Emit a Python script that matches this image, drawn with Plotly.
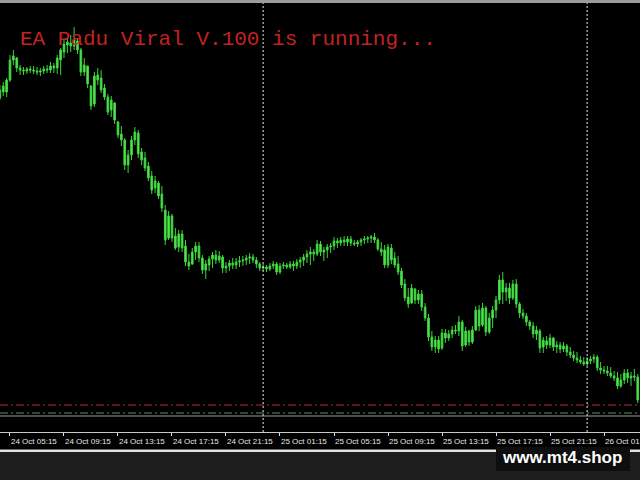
import plotly.graph_objects as go
import pandas as pd

# ---------------- data (15-minute candles) ----------------
start_time = "2024-10-24 04:30"

opens = [402,408,408,420,440,442,432,430,429,431,
         430,429,428,429,431,430,434,432,440,448,
         455,457,454,459,450,428,434,414,396,425,
         422,412,403,390,397,378,366,360,335,345,
         360,367,348,342,334,324,312,317,306,290,
         262,284,264,253,266,254,238,236,248,254,
         242,230,235,241,245,240,243,232,234,237,
         235,238,239,240,242,243,240,236,232,233,
         231,234,236,228,234,235,233,236,234,238,
         240,243,246,248,246,256,248,250,253,254,
         259,257,260,258,261,257,256,258,260,261,
         262,263,260,251,250,235,252,242,236,229,
         216,203,197,211,200,206,193,182,163,153,
         160,152,167,162,166,170,169,178,155,169,
         158,170,190,175,192,168,182,190,200,220,
         208,212,202,216,196,187,184,178,174,166,
         169,153,159,155,162,153,155,151,154,148,
         145,142,140,138,136,139,141,143,132,130,
         129,127,124,122,114,120,127,122,124,123]

highs = [415,418,422,445,450,443,435,433,433,434,
         434,433,432,434,435,438,437,445,452,460,
         462,465,473,462,452,442,434,415,428,432,
         430,416,406,404,398,379,374,362,350,364,
         373,370,352,348,338,329,324,319,314,295,
         289,286,272,270,270,260,246,252,258,258,
         245,240,244,248,250,249,245,238,240,242,
         242,244,244,245,247,246,243,238,236,235,
         237,239,238,237,238,237,239,239,241,243,
         246,250,253,251,260,259,253,256,257,263,
         262,263,264,264,264,260,260,262,264,264,
         265,267,262,258,255,256,256,248,244,232,
         221,212,216,212,210,210,197,186,169,164,
         164,171,171,170,174,175,184,180,173,170,
         174,194,195,197,194,187,194,204,225,228,
         217,217,220,221,198,191,187,180,178,174,
         171,163,164,166,163,159,158,158,156,153,
         149,148,144,143,143,144,146,145,138,134,
         134,133,129,128,126,131,131,128,131,126]

lows = [400,404,403,418,435,428,425,425,426,427,
        426,425,424,426,427,427,427,426,425,442,
        447,448,450,446,424,424,412,390,393,415,
        407,400,385,383,376,362,354,330,327,340,
        355,342,335,329,319,306,307,301,288,255,
        260,258,250,248,248,234,230,235,240,238,
        226,221,229,232,236,237,227,227,229,231,
        231,233,234,235,236,237,232,229,229,228,
        229,231,225,226,231,231,231,229,231,232,
        234,237,235,239,244,244,239,242,247,250,
        252,254,254,254,254,254,253,254,256,257,
        257,257,249,244,232,232,236,232,225,212,
        199,192,196,196,196,189,179,159,149,147,
        147,150,157,159,162,166,164,149,153,154,
        156,169,169,173,164,166,172,182,196,196,
        199,196,200,192,182,181,174,170,162,160,
        147,147,151,152,149,147,147,148,144,142,
        139,137,136,134,134,136,137,129,126,126,
        124,122,119,111,112,116,117,114,119,97]

closes = [410,414,420,440,444,432,430,429,431,430,
          429,428,429,431,430,434,432,442,450,456,
          458,454,460,450,428,435,416,394,424,420,
          410,403,388,400,380,365,360,335,345,360,
          368,346,340,332,322,310,319,304,292,260,
          284,262,252,266,252,238,234,248,254,242,
          230,236,241,245,240,244,232,234,237,235,
          238,239,240,242,243,240,236,232,233,231,
          234,236,228,234,235,233,236,234,238,240,
          243,246,248,246,256,248,250,253,254,259,
          257,260,258,261,257,256,258,260,261,262,
          263,260,251,248,235,253,240,235,228,215,
          202,196,212,200,206,193,182,163,153,160,
          151,167,162,166,170,169,178,154,169,158,
          170,190,174,192,168,182,190,200,220,208,
          212,202,216,196,187,184,178,174,166,170,
          152,160,155,162,153,155,151,154,148,145,
          142,140,138,136,139,141,143,132,130,129,
          127,124,122,114,120,127,122,124,123,100]

tick_times = ["2024-10-24 05:15", "2024-10-24 09:15", "2024-10-24 13:15",
              "2024-10-24 17:15", "2024-10-24 21:15", "2024-10-25 01:15",
              "2024-10-25 05:15", "2024-10-25 09:15", "2024-10-25 13:15",
              "2024-10-25 17:15", "2024-10-25 21:15", "2024-10-26 01:15"]
tick_labels = ["24 Oct 05:15", "24 Oct 09:15", "24 Oct 13:15", "24 Oct 17:15",
               "24 Oct 21:15", "25 Oct 01:15", "25 Oct 05:15", "25 Oct 09:15",
               "25 Oct 13:15", "25 Oct 17:15", "25 Oct 21:15", "26 Oct 01:15"]
day_separators = ["2024-10-25 00:00", "2024-10-26 00:00"]
level_red = 95
level_green = 87
level_gray = 84
title_text = "EA Padu Viral V.100 is running..."
watermark = "www.mt4.shop"

times = pd.date_range(start_time, periods=len(opens), freq="15min")

# ---------------- figure ----------------
W, H = 640, 480
TOP, BOT = 3, 432


def py(y):
    return (BOT - y) / (BOT - TOP)


green_line = "#3cd43c"
green_fill = "#5ee85e"

fig = go.Figure()
fig.add_trace(go.Candlestick(
    x=times, open=opens, high=highs, low=lows, close=closes,
    increasing=dict(line=dict(color=green_line, width=1), fillcolor=green_fill),
    decreasing=dict(line=dict(color=green_line, width=1), fillcolor=green_fill),
    whiskerwidth=0, showlegend=False, hoverinfo="skip",
))

shapes = []
# top grey strip
shapes.append(dict(type="rect", xref="paper", yref="paper", x0=0, x1=1,
                   y0=py(TOP), y1=py(0), fillcolor="#9c9c9c", line=dict(width=0)))
# bottom dark area
shapes.append(dict(type="rect", xref="paper", yref="paper", x0=0, x1=1,
                   y0=py(480), y1=py(452), fillcolor="#1e1e1e", line=dict(width=0)))
shapes.append(dict(type="rect", xref="paper", yref="paper", x0=0, x1=1,
                   y0=py(452), y1=py(449.5), fillcolor="#e2e2e2", line=dict(width=0)))
# horizontal levels
shapes.append(dict(type="line", xref="paper", yref="y", x0=0, x1=1,
                   y0=level_red, y1=level_red,
                   line=dict(color="#a83030", width=1, dash="8px,3px,2px,3px")))
shapes.append(dict(type="line", xref="paper", yref="y", x0=0, x1=1,
                   y0=level_green, y1=level_green,
                   line=dict(color="#5f8f5f", width=1, dash="8px,3px,2px,3px")))
shapes.append(dict(type="line", xref="paper", yref="y", x0=0, x1=1,
                   y0=level_gray, y1=level_gray,
                   line=dict(color="#9a9a9a", width=1)))
# day separators
for d in day_separators:
    shapes.append(dict(type="line", xref="x", yref="paper", x0=d, x1=d,
                       y0=0, y1=1, line=dict(color="#e8e8e8", width=1, dash="2px,2px")))
# watermark box
shapes.append(dict(type="rect", xref="paper", yref="paper", x0=496 / W, x1=630 / W,
                   y0=py(471), y1=py(447), fillcolor="#0e0e0e", line=dict(width=0)))

annotations = []
annotations.append(dict(text=title_text, xref="paper", yref="paper",
                        x=18 / W, y=py(39), xanchor="left", yanchor="middle",
                        showarrow=False,
                        font=dict(family="Liberation Mono, Courier New, monospace",
                                  size=21, color="#c42222")))
for t, lab in zip(tick_times, tick_labels):
    annotations.append(dict(text=lab, xref="x", yref="paper", x=t, y=py(441),
                            xanchor="left", yanchor="middle", showarrow=False,
                            borderpad=0,
                            font=dict(family="Liberation Sans, Arial, sans-serif",
                                      size=8, color="#e6e6e6")))
annotations.append(dict(text="<b>" + watermark + "</b>", xref="paper", yref="paper",
                        x=562 / W, y=py(457.5), xanchor="center", yanchor="middle",
                        showarrow=False,
                        font=dict(family="Liberation Sans, Arial, sans-serif",
                                  size=17, color="#ffffff")))

fig.update_layout(
    width=W, height=H,
    margin=dict(l=0, r=0, t=TOP, b=H - BOT),
    paper_bgcolor="#000000", plot_bgcolor="#000000",
    shapes=shapes, annotations=annotations,
    showlegend=False,
    xaxis=dict(type="date", range=["2024-10-24 04:30:36", "2024-10-26 03:55:00"],
               rangeslider=dict(visible=False), showgrid=False, zeroline=False,
               showline=True, linecolor="#c8c8c8", linewidth=1,
               ticks="outside", ticklen=3, tickcolor="#e0e0e0", tickwidth=1,
               tickvals=tick_times, showticklabels=False, fixedrange=True),
    yaxis=dict(range=[68, 497], visible=False, fixedrange=True),
)

fig.write_html(
    "out.html",
    config={"displayModeBar": False},
    post_script="document.body.style.margin='0';document.body.style.overflow='hidden';",
)
